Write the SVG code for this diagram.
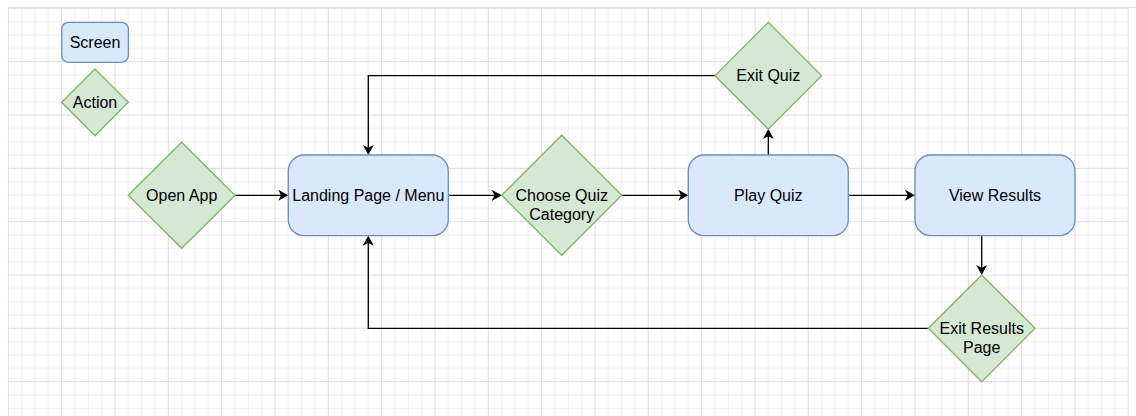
<svg xmlns="http://www.w3.org/2000/svg" width="1136" height="416" viewBox="0 0 1136 416">
  <defs>
    <pattern id="grid" patternUnits="userSpaceOnUse" x="7.833" y="7.833" width="53.333" height="53.333">
      <rect x="0" y="0" width="53.333" height="53.333" fill="#ffffff"/>
      <g fill="#f1f1f1">
        <rect x="13.333" y="0" width="1" height="53.333"/>
        <rect x="26.667" y="0" width="1" height="53.333"/>
        <rect x="40" y="0" width="1" height="53.333"/>
        <rect x="0" y="13.333" width="53.333" height="1"/>
        <rect x="0" y="26.667" width="53.333" height="1"/>
        <rect x="0" y="40" width="53.333" height="1"/>
      </g>
      <g fill="#dedede">
        <rect x="0" y="0" width="1" height="53.333"/>
        <rect x="0" y="0" width="53.333" height="1"/>
      </g>
    </pattern>
    <marker id="arrow" markerUnits="userSpaceOnUse" markerWidth="11" markerHeight="11" refX="6" refY="5.5" orient="auto">
      <path d="M0,0 L10,5.5 L0,11 L2.7,5.5 Z" fill="#000000"/>
    </marker>
  </defs>
  <style>
    .screen { fill: #dae8fc; stroke: #6c8ebf; stroke-width: 1.33; }
    .action { fill: #d5e8d4; stroke: #82b366; stroke-width: 1.33; }
    .label { font-family: "Liberation Sans", Arial, Helvetica, sans-serif; font-size: 16px; fill: #000000; text-anchor: middle; }
    .edge { fill: none; stroke: #000000; stroke-width: 1.33; marker-end: url(#arrow); }
  </style>

  <!-- canvas background and grid -->
  <rect x="0" y="0" width="1136" height="416" fill="#ffffff"/>
  <rect x="7.833" y="7.833" width="1121" height="408.2" fill="url(#grid)"/>
  <rect x="7.833" y="6.8" width="1128.2" height="1.2" fill="#e2e2e2"/>

  <!-- legend -->
  <g id="legend-screen">
    <rect class="screen" x="61.7" y="22.3" width="66.7" height="40" rx="6.7" ry="6.7"/>
    <text class="label" x="95" y="48">Screen</text>
  </g>
  <g id="legend-action">
    <polygon class="action" points="95,69 128.3,102.3 95,135.7 61.7,102.3"/>
    <text class="label" x="95" y="108">Action</text>
  </g>

  <!-- connectors -->
  <g id="connectors">
    <path class="edge" d="M235,195.3 L284.3,195.3"/>
    <path class="edge" d="M448.3,195.3 L497.7,195.3"/>
    <path class="edge" d="M621.7,195.3 L684.3,195.3"/>
    <path class="edge" d="M848.3,195.3 L911,195.3"/>
    <path class="edge" d="M768.3,155 L768.3,133"/>
    <path class="edge" d="M715,75.7 L368.3,75.7 L368.3,151"/>
    <path class="edge" d="M981.7,235.7 L981.7,271"/>
    <path class="edge" d="M928.3,328.3 L368.3,328.3 L368.3,239.7"/>
  </g>

  <!-- nodes -->
  <g id="open-app">
    <polygon class="action" points="181.7,142.3 235,195.3 181.7,248.3 128.3,195.3"/>
    <text class="label" x="181.7" y="201">Open App</text>
  </g>
  <g id="landing-page">
    <rect class="screen" x="288.3" y="155" width="160" height="80.7" rx="16" ry="16"/>
    <text class="label" x="368.3" y="201">Landing Page / Menu</text>
  </g>
  <g id="choose-category">
    <polygon class="action" points="561.7,135.3 621.7,195.3 561.7,255.3 501.7,195.3"/>
    <text class="label" x="561.7" y="201">Choose Quiz</text>
    <text class="label" x="561.7" y="219.7">Category</text>
  </g>
  <g id="play-quiz">
    <rect class="screen" x="688.3" y="155" width="160" height="80.7" rx="16" ry="16"/>
    <text class="label" x="768.3" y="201">Play Quiz</text>
  </g>
  <g id="exit-quiz">
    <polygon class="action" points="768.3,22.3 821.7,75.7 768.3,129 715,75.7"/>
    <text class="label" x="768.3" y="81.4">Exit Quiz</text>
  </g>
  <g id="view-results">
    <rect class="screen" x="915" y="155" width="160" height="80.7" rx="16" ry="16"/>
    <text class="label" x="995" y="201">View Results</text>
  </g>
  <g id="exit-results">
    <polygon class="action" points="981.7,275 1035,328.3 981.7,381.7 928.3,328.3"/>
    <text class="label" x="981.7" y="334">Exit Results</text>
    <text class="label" x="981.7" y="352.5">Page</text>
  </g>
</svg>
